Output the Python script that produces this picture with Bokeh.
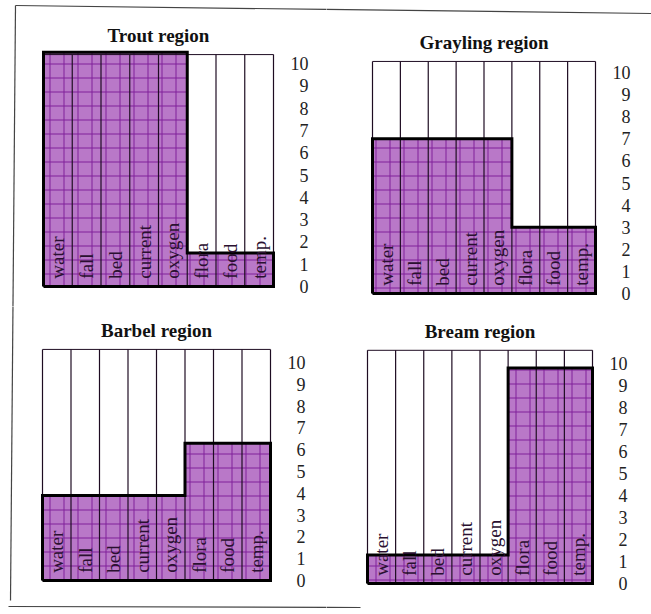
import numpy as np
from bokeh.plotting import figure
from bokeh.layouts import gridplot
from bokeh.models import Range1d
from bokeh.core.properties import value
from bokeh.embed import file_html
from bokeh.resources import INLINE

# ---------------- data ----------------
factors = ["water", "fall", "bed", "current", "oxygen", "flora", "food", "temp."]
titles = ["Trout region", "Grayling region", "Barbel region", "Bream region"]
trout = [10.5, 10.5, 10.5, 10.5, 10.5, 1.5, 1.5, 1.5]
grayling = [7, 7, 7, 7, 7, 3, 3, 3]
barbel = [3.9, 3.9, 3.9, 3.9, 3.9, 6.3, 6.3, 6.3]
bream = [1.3, 1.3, 1.3, 1.3, 1.3, 9.8, 9.8, 9.8]
ticks = [0, 1, 2, 3, 4, 5, 6, 7, 8, 9, 10]
tick_labels = ["0", "1", "2", "3", "4", "5", "6", "7", "8", "9", "10"]
grid_tops = [10.4, 10.5, 10.6, 10.6]

# ---------------- layout (page pixels) ----------------
PANELS = [
    dict(ox=0, oy=0, w=326, h=306, left=43, right=273, y0=286, y10=63),
    dict(ox=326, oy=0, w=325, h=306, left=372, right=595, y0=293, y10=72),
    dict(ox=0, oy=306, w=326, h=308, left=42, right=270, y0=580, y10=362),
    dict(ox=326, oy=306, w=325, h=308, left=367, right=592, y0=583, y10=363),
]
FRAME = [((15, 5), (651, 13)), ((15, 5), (10, 600)), ((8, 606), (360, 607))]

SERIF = value("Liberation Serif")
FILL = "#b978c8"
HATCH = "#80209a"
INK = "#1e0c22"


def make_panel(title, vals, gtop, g):
    n = len(vals)
    cw = (g["right"] - g["left"]) / n
    uh = (g["y0"] - g["y10"]) / 10.0
    xs0 = (g["ox"] - g["left"]) / cw
    xs1 = (g["ox"] + g["w"] - g["left"]) / cw
    ye = (g["y0"] - g["oy"]) / uh
    ys = (g["y0"] - g["oy"] - g["h"]) / uh

    p = figure(width=g["w"], height=g["h"], x_range=Range1d(xs0, xs1),
               y_range=Range1d(ys, ye), output_backend="svg",
               toolbar_location=None, min_border=0, x_axis_type=None,
               y_axis_type=None, outline_line_color=None,
               background_fill_color="white", border_fill_color="white")
    p.grid.visible = False

    idx = np.arange(n)
    # filled bars with fine grid texture
    p.quad(left=idx, right=idx + 1, bottom=0, top=vals, fill_color=FILL,
           line_color=None, hatch_pattern="+", hatch_color=HATCH,
           hatch_scale=14, hatch_weight=1)

    # column dividers and box top
    edges = np.arange(n + 1)
    p.segment(x0=edges, y0=0, x1=edges, y1=gtop, line_color=INK, line_width=1.2)
    p.segment(x0=[0], y0=[gtop], x1=[n], y1=[gtop], line_color=INK, line_width=1)
    p.segment(x0=[0], y0=[0], x1=[n], y1=[0], line_color=INK, line_width=1)

    # thick outline of the filled region
    ox_, oy_ = [0], [0]
    for i, v in enumerate(vals):
        ox_ += [i, i + 1]
        oy_ += [v, v]
    ox_ += [n, 0]
    oy_ += [0, 0]
    p.line(ox_, oy_, line_color="black", line_width=3, line_join="miter")

    # rotated factor labels
    p.text(x=idx + 0.5, y=[0.35] * n, text=factors, angle=np.pi / 2,
           text_align="left", text_baseline="middle", text_font=SERIF,
           text_font_size="19px", text_color="#2a1030")

    # tick labels at right
    p.text(x=[n] * len(ticks), y=ticks, text=tick_labels, x_offset=35,
           text_align="right", text_baseline="middle", text_font=SERIF,
           text_font_size="18px", text_color="#222222")

    # title
    p.text(x=[n / 2], y=[gtop], text=[title], y_offset=-19,
           text_align="center", text_baseline="middle", text_font=SERIF,
           text_font_style="bold", text_font_size="19px", text_color="#111111")

    # outer frame lines
    for (a, b) in FRAME:
        x0 = (a[0] - g["left"]) / cw
        y0 = (g["y0"] - a[1]) / uh
        x1 = (b[0] - g["left"]) / cw
        y1 = (g["y0"] - b[1]) / uh
        p.line([x0, x1], [y0, y1], line_color="#444444", line_width=1.2)
    return p


series = [trout, grayling, barbel, bream]
plots = [make_panel(t, v, gt, g) for t, v, gt, g in zip(titles, series, grid_tops, PANELS)]
layout = gridplot([[plots[0], plots[1]], [plots[2], plots[3]]], toolbar_location=None)

open("out.html", "w").write(file_html(layout, INLINE))
